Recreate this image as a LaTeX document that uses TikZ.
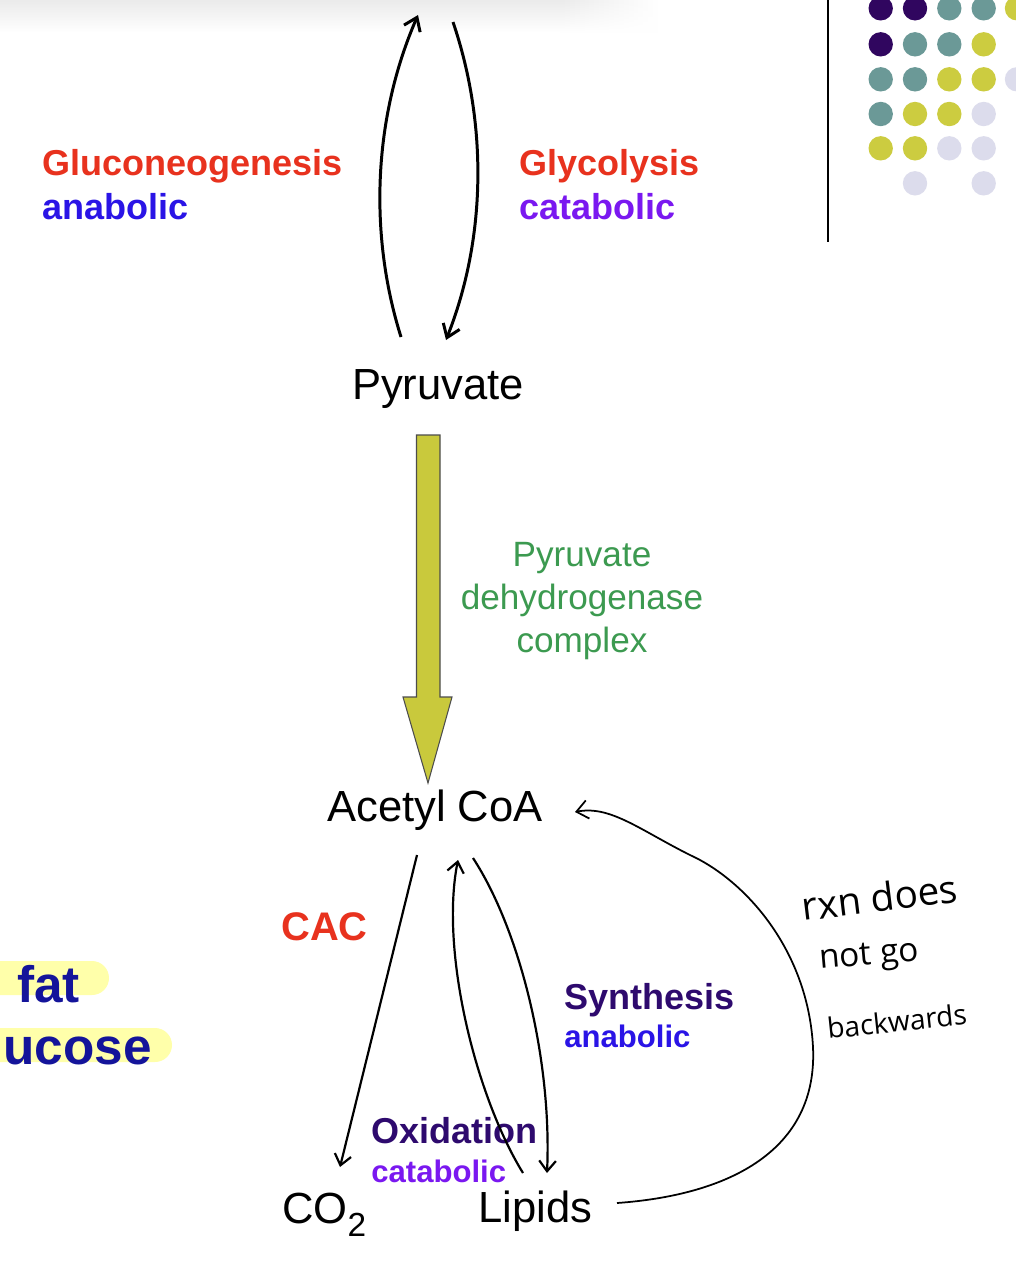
\documentclass[tikz,border=0pt]{standalone}
\usepackage{fontspec}
\setmainfont{Liberation Sans}
\newfontfamily\handfont{Open Sans}
\usetikzlibrary{arrows.meta,fadings}
\definecolor{cred}{HTML}{E8321E}
\definecolor{cana}{HTML}{2A14E6}
\definecolor{ccat}{HTML}{7A18F0}
\definecolor{cdp}{HTML}{2E0A6E}
\definecolor{cgreen}{HTML}{3C9A50}
\definecolor{cyel}{HTML}{C9C93C}
\definecolor{dpurple}{HTML}{30065F}
\definecolor{dteal}{HTML}{6B9997}
\definecolor{dyel}{HTML}{CCCC40}
\definecolor{dlav}{HTML}{DCDCEC}
\definecolor{hlyel}{HTML}{FFFFAA}
\definecolor{cnavy}{HTML}{14149A}
\tikzfading[name=fadedown, top color=transparent!0, bottom color=transparent!100]
\begin{document}
\begin{tikzpicture}[x=0.02cm,y=-0.02cm,
  lblbig/.style={inner sep=0pt, anchor=base west, font=\fontsize{20.5}{24}\selectfont\bfseries},
  lblsmall/.style={inner sep=0pt, anchor=base west, font=\fontsize{17.7}{21}\selectfont\bfseries},
  metab/.style={inner sep=0pt, anchor=base, font=\fontsize{24.8}{30}\selectfont},
  handtxt/.style={inner sep=0pt, anchor=base west, font=\handfont},
  toparrow/.style={line width=1.7pt, -{Straight Barb[length=7pt,width=10pt]}},
  botarrow/.style={line width=1.25pt, -{Straight Barb[length=6pt,width=9.5pt]}},
  handarrow/.style={line width=1pt, -{Straight Barb[length=6.5pt,width=10.5pt]}}]
\useasboundingbox (0,0) rectangle (1016,1262);
\clip (0,0) rectangle (1016,1262);
\fill[white] (0,0) rectangle (1016,1262);
% top shadow
\fill[black!8, path fading=fadedown] (0,0) rectangle (560,32);
\shade[left color=black!8, right color=white, path fading=fadedown] (560,0) rectangle (660,32);

% dots and rule
\draw[line width=1.1pt] (828,0) -- (828,242);
\foreach \x/\y/\c in {880.7/8.3/dpurple, 915/8.3/dpurple, 949.3/8.3/dteal, 983.7/8.3/dteal, 1017/8.3/dyel,
  880.7/44.3/dpurple, 915/44.3/dteal, 949.3/44.3/dteal, 983.7/44.3/dyel,
  880.7/79.3/dteal, 915/79.3/dteal, 949.3/79.3/dyel, 983.7/79.3/dyel, 1017/79.3/dlav,
  880.7/114/dteal, 915/114/dyel, 949.3/114/dyel, 983.7/114/dlav,
  880.7/148.3/dyel, 915/148.3/dyel, 949.3/148.3/dlav, 983.7/148.3/dlav,
  915/183.3/dlav, 983.7/183.3/dlav}
  \fill[\c] (\x,\y) circle (0.244cm);

% highlights
\fill[hlyel, rounded corners=0.34cm] (-40,961) rectangle (109,995);
\fill[hlyel, rounded corners=0.34cm] (-40,1028) rectangle (172,1062);
\node[inner sep=0pt, anchor=base west, text=cnavy, font=\fontsize{29.2}{34}\selectfont\bfseries] (fat) at (17,1002) {fat};
\node[inner sep=0pt, anchor=base west, text=cnavy, font=\fontsize{29.2}{34}\selectfont\bfseries] (ucose) at (3,1064) {ucose};

% labels
\node[lblbig, text=cred] (glu) at (42,175) {Gluconeogenesis};
\node[lblbig, text=cana] (ana1) at (42,219) {anabolic};
\node[lblbig, text=cred] (gly) at (519,175) {Glycolysis};
\node[lblbig, text=ccat] (cat1) at (519,219) {catabolic};
\node[lblbig, text=cred, font=\fontsize{22.7}{26}\selectfont\bfseries] (cac) at (281,940) {CAC};
\node[lblbig, text=cdp] (syn) at (564,1009) {Synthesis};
\node[lblsmall, text=cana] (ana2) at (564,1047) {anabolic};
\node[lblbig, text=cdp] (oxi) at (371,1143) {Oxidation};
\node[lblsmall, text=ccat] (cat2) at (371,1182) {catabolic};

% metabolites
\node[metab] (pyr) at (438,399) {Pyruvate};
\node[metab] (aco) at (435,821) {Acetyl CoA};
\node[metab, anchor=base west] (co2) at (282,1223) {CO\raisebox{-0.32em}{\fontsize{19}{20}\selectfont 2}};
\node[metab, anchor=base west] (lip) at (478,1222) {Lipids};

\node[inner sep=0pt, align=center, text=cgreen, font=\fontsize{20}{24.4}\selectfont] (pdh) at (582,601) {Pyruvate\\dehydrogenase\\complex};

% top arrows
\coordinate (gl0) at (401,337);
\coordinate (gl1) at (418,15);
\coordinate (gy0) at (453,22);
\coordinate (gy1) at (446,340);
\draw[toparrow] (gl0) .. controls (368,232) and (374,116) .. (gl1);
\draw[toparrow] (gy0) .. controls (488,125) and (486,239) .. (gy1);

% big yellow arrow
\draw[fill=cyel, draw=black!70, line width=0.6pt] (416.5,435) -- (440,435) -- (440,697) -- (452,697) -- (428,783) -- (403,697) -- (416.5,697) -- cycle;

% bottom arrows
\coordinate (cacS) at (417,855);
\coordinate (cacE) at (340,1167);
\coordinate (oxS) at (523,1173);
\coordinate (oxE) at (458,860);
\coordinate (synS) at (473,858);
\coordinate (synE) at (547,1173);
\draw[botarrow] (cacS) -- (cacE);
\draw[botarrow] (oxS) .. controls (475,1095) and (440,950) .. (oxE);
\draw[botarrow] (synS) .. controls (520,930) and (552,1060) .. (synE);

% handwritten loop
\coordinate (hS) at (617,1203);
\coordinate (hE) at (575,812);
\draw[handarrow] (hS) .. controls (730,1195) and (818,1150) .. (813,1047)
  .. controls (808,950) and (745,880) .. (690,855)
  .. controls (640,830) and (610,805) .. (hE);

\node[handtxt, rotate=7, font=\handfont\fontsize{22}{26}\selectfont] (h1) at (803,921) {rxn does};
\node[handtxt, rotate=5, font=\handfont\fontsize{19}{23}\selectfont] (h2) at (820,969) {not go};
\node[handtxt, rotate=6, font=\handfont\fontsize{16}{20}\selectfont] (h3) at (828,1039) {backwards};
\end{tikzpicture}
\end{document}
